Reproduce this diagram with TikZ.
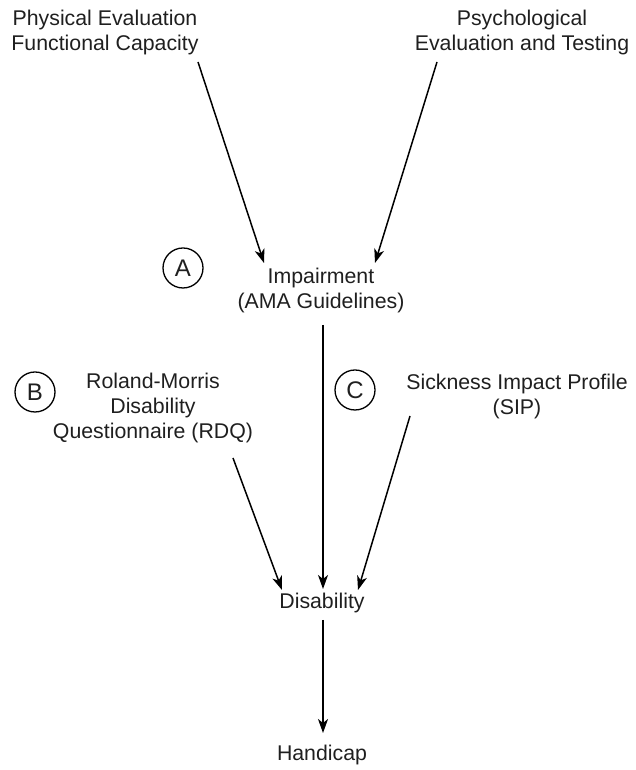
\documentclass[tikz,border=0pt]{standalone}
\usepackage{fontspec}
\setmainfont{Liberation Sans}
\usetikzlibrary{arrows.meta}
\begin{document}
\begin{tikzpicture}[x=1pt,y=1pt,
  lbl/.style={align=center,inner sep=0pt,text=black!88,font=\fontsize{21.3}{25}\selectfont},
  tag/.style={circle,draw,line width=1.3pt,minimum size=40pt,inner sep=0pt,text=black!88,font=\fontsize{24}{25}\selectfont},
  arr/.style={line width=1.5pt,-{Stealth[length=14pt,width=10pt,inset=4pt]}}]
\useasboundingbox (0,0) rectangle (635,770);
% sources, measures and outcomes
\node[lbl] (phys)  at (105,737) {Physical Evaluation\\Functional Capacity};
\node[lbl] (psych) at (522,737) {Psychological\\Evaluation and Testing};
\node[lbl] (imp)   at (321,480) {Impairment\\(AMA Guidelines)};
\node[lbl] (rdq)   at (153,362) {Roland-Morris\\Disability\\Questionnaire (RDQ)};
\node[lbl] (sip)   at (517,374) {Sickness Impact Profile\\(SIP)};
\node[lbl] (dis)   at (322,167) {Disability};
\node[lbl] (hand)  at (322,15)  {Handicap};
% circled markers
\node[tag] (tagA) at (183,502) {A};
\node[tag] (tagB) at (35,378)  {B};
\node[tag] (tagC) at (355,380) {C};
% connectors
\draw[arr] ([shift={(93,-29)}]phys.center) -- ([shift={(-57,27)}]imp.center);
\draw[arr] ([shift={(-85,-29)}]psych.center) -- ([shift={(54,27)}]imp.center);
\draw[arr] ([shift={(2,-35)}]imp.center) -- ([shift={(1,14)}]dis.center);
\draw[arr] ([shift={(80,-50)}]rdq.center) -- ([shift={(-40,13)}]dis.center);
\draw[arr] ([shift={(-107,-20)}]sip.center) -- ([shift={(36,13)}]dis.center);
\draw[arr] ([shift={(1,-17)}]dis.center) -- ([shift={(1,22)}]hand.center);
\end{tikzpicture}
\end{document}
